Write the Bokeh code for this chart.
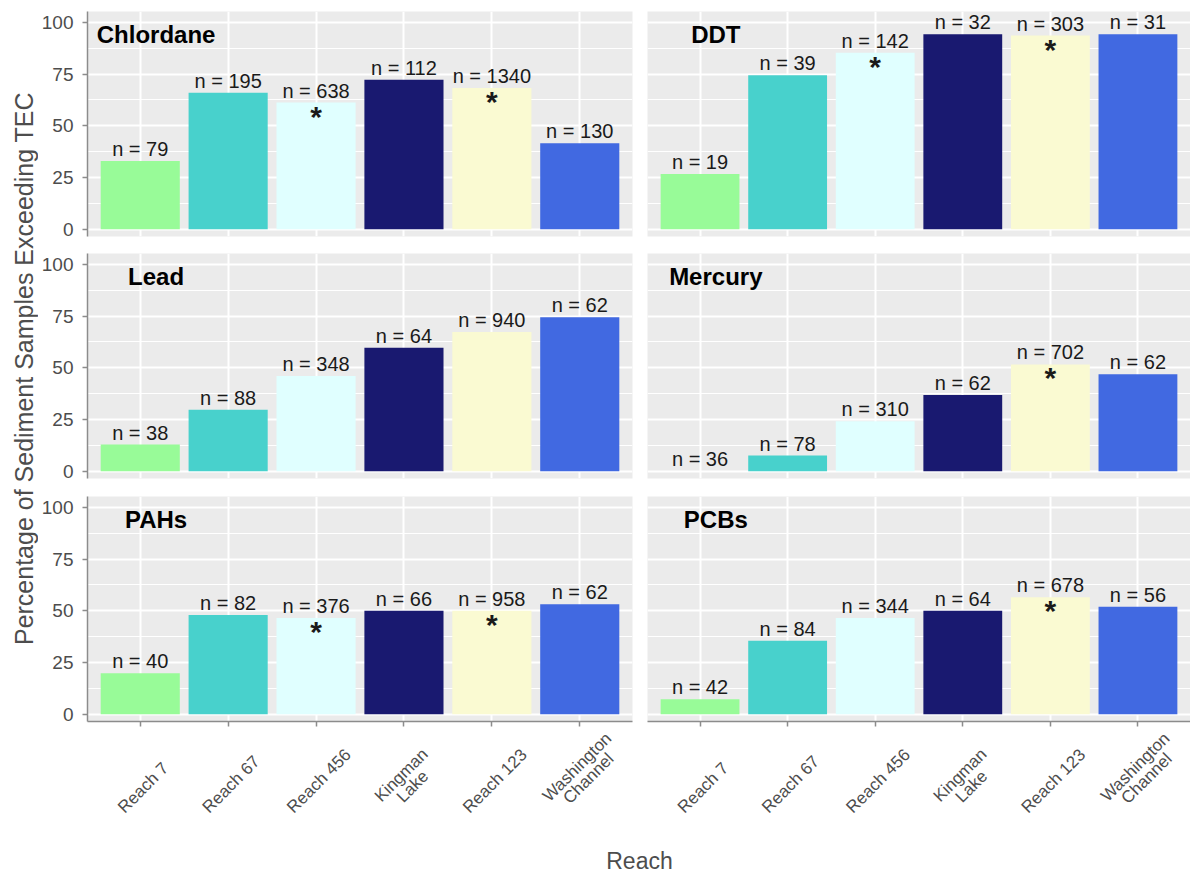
import math
from bokeh.plotting import figure
from bokeh.models import (ColumnDataSource, FactorRange, Range1d, FixedTicker,
                          LabelSet, Label)
from bokeh.layouts import column, row
from bokeh.core.properties import value
from bokeh.embed import file_html
from bokeh.resources import INLINE

# ---------------- data ----------------
reaches = ["Reach 7", "Reach 67", "Reach 456", "Kingman Lake", "Reach 123", "Washington Channel"]
reach_label_line1 = ["Reach 7", "Reach 67", "Reach 456", "Kingman", "Reach 123", "Washington"]
reach_label_line2 = ["", "", "", "Lake", "", "Channel"]
reach_colors = ["#98FB98", "#48D1CC", "#E0FFFF", "#191970", "#FAFAD2", "#4169E1"]

chlordane_pct = [33.0, 65.9, 61.2, 72.2, 68.3, 41.5]
chlordane_n = [79, 195, 638, 112, 1340, 130]
chlordane_sig = [0, 0, 1, 0, 1, 0]

ddt_pct = [26.7, 74.4, 85.3, 94.2, 93.6, 94.2]
ddt_n = [19, 39, 142, 32, 303, 31]
ddt_sig = [0, 0, 1, 0, 1, 0]

lead_pct = [12.9, 29.7, 46.0, 59.7, 67.3, 74.4]
lead_n = [38, 88, 348, 64, 940, 62]
lead_sig = [0, 0, 0, 0, 0, 0]

mercury_pct = [0.0, 7.6, 24.2, 36.8, 51.6, 46.9]
mercury_n = [36, 78, 310, 62, 702, 62]
mercury_sig = [0, 0, 0, 0, 1, 0]

pahs_pct = [19.8, 47.9, 46.5, 50.0, 50.0, 53.2]
pahs_n = [40, 82, 376, 66, 958, 62]
pahs_sig = [0, 0, 1, 0, 1, 0]

pcbs_pct = [7.3, 35.5, 46.5, 50.0, 56.5, 51.9]
pcbs_n = [42, 84, 344, 64, 678, 56]
pcbs_sig = [0, 0, 0, 0, 1, 0]

y_ticks = [0, 25, 50, 75, 100]
y_minor_ticks = [12.5, 37.5, 62.5, 87.5]

y_title = "Percentage of Sediment Samples Exceeding TEC"
x_title = "Reach"

# ---------------- style ----------------
FONT = "Liberation Sans"
PANEL_BG = "#EBEBEB"
AXIS_GREY = "#8C8C8C"
TEXT_GREY = "#4D4D4D"
Y_LO, Y_HI = -3.5, 105.2
TITLE_W = 38
LEFT_B = 49
STRIP_H = 96
ROW_H = [244, 243, 240 + STRIP_H]
XT_H = 50
TICK_FS = 17
LINE_SP = 16

# approximate Arial/Liberation Sans advance widths (em) for tick-label layout
_EM = {"R": .722, "e": .556, "a": .556, "c": .5, "h": .556, " ": .278, "K": .667,
       "i": .222, "n": .556, "g": .556, "m": .833, "L": .556, "k": .5, "W": .944,
       "s": .5, "t": .278, "o": .556, "C": .722, "l": .222}


def text_w(s):
    return sum(_EM.get(ch, .556) for ch in s) * TICK_FS


def x_range():
    return FactorRange(factors=reaches, range_padding=0.1, range_padding_units="absolute")


def make_panel(name, pct, n, sig, left, bottom, top_border, bottom_border, xr):
    fw = 545 if left else 543
    p = figure(x_range=xr, y_range=Range1d(Y_LO, Y_HI),
               frame_width=fw, frame_height=225,
               min_border_left=LEFT_B if left else 8,
               min_border_right=7 if left else 0,
               min_border_top=top_border, min_border_bottom=bottom_border,
               output_backend="svg", toolbar_location=None, tools="")
    p.background_fill_color = PANEL_BG
    p.border_fill_color = "white"
    p.outline_line_color = None

    tick = FixedTicker(ticks=y_ticks, minor_ticks=y_minor_ticks)
    p.yaxis.ticker = tick
    p.ygrid.ticker = tick
    p.ygrid.grid_line_color = "white"
    p.ygrid.grid_line_width = 2
    p.ygrid.minor_grid_line_color = "white"
    p.ygrid.minor_grid_line_width = 1
    p.xgrid.grid_line_color = "white"
    p.xgrid.grid_line_width = 2

    if left:
        ax = p.yaxis[0]
        ax.axis_line_color = AXIS_GREY
        ax.axis_line_width = 1.5
        ax.major_tick_line_color = AXIS_GREY
        ax.major_tick_line_width = 1.5
        ax.major_tick_out = 5
        ax.major_tick_in = 0
        ax.minor_tick_line_color = None
        ax.major_label_text_font = FONT
        ax.major_label_text_font_size = "19px"
        ax.major_label_text_color = TEXT_GREY
        ax.major_label_standoff = 9
    else:
        p.yaxis.visible = False

    if bottom:
        ax = p.xaxis[0]
        ax.axis_line_color = AXIS_GREY
        ax.axis_line_width = 1.5
        ax.major_tick_line_color = AXIS_GREY
        ax.major_tick_line_width = 1.5
        ax.major_tick_out = 5
        ax.major_tick_in = 0
        ax.minor_tick_line_color = None
        ax.major_label_text_color = None
        ax.major_label_standoff = 0
    else:
        p.xaxis.visible = False

    src = ColumnDataSource(dict(reach=reaches, pct=pct,
                                label=["n = %d" % v for v in n], color=reach_colors))
    p.vbar(x="reach", top="pct", width=0.9, source=src, fill_color="color", line_color=None)

    p.add_layout(LabelSet(x="reach", y="pct", text="label", source=src,
                          text_font=value(FONT), text_font_size=value("20px"), text_color="#1A1A1A",
                          text_align="center", text_baseline="alphabetic", y_offset=5))

    sig_src = ColumnDataSource(dict(reach=[r for r, s in zip(reaches, sig) if s],
                                    pct=[v for v, s in zip(pct, sig) if s],
                                    star=["*" for s in sig if s]))
    p.add_layout(LabelSet(x="reach", y="pct", text="star", source=sig_src,
                          text_font=value(FONT), text_font_size=value("30px"),
                          text_font_style="bold", text_color="#1A1A1A",
                          text_align="center", text_baseline="alphabetic", y_offset=-24))

    p.add_layout(Label(x=0.68, y=94, text=name, text_font=FONT, text_font_size="24px",
                       text_font_style="bold", text_color="black",
                       text_align="center", text_baseline="middle"))
    return p


def make_strip(left, xr):
    fw = 545 if left else 543
    s = figure(x_range=xr, y_range=Range1d(0, STRIP_H),
               frame_width=fw, frame_height=STRIP_H,
               min_border_left=LEFT_B if left else 8,
               min_border_right=7 if left else 0,
               min_border_top=0, min_border_bottom=0,
               output_backend="svg", toolbar_location=None, tools="")
    s.axis.visible = False
    s.grid.visible = False
    s.outline_line_color = None
    c45 = math.cos(math.pi / 4)
    x1, y1, x2, y2 = [], [], [], []
    for l1, l2 in zip(reach_label_line1, reach_label_line2):
        nl = 2 if l2 else 1
        lmax = max(text_w(l1), text_w(l2))
        extent = (lmax + 0.72 * TICK_FS + (nl - 1) * LINE_SP) * c45
        cy = 9 + extent / 2.0
        d = (LINE_SP / 2.0) * c45 if nl == 2 else 0.0
        x1.append(3 - d); y1.append(cy + d)
        x2.append(3 + d); y2.append(cy - d)
    lab = ColumnDataSource(dict(reach=reaches, l1=reach_label_line1, l2=reach_label_line2,
                                x1=x1, y1=y1, x2=x2, y2=y2))
    for txt, xo, yy in (("l1", "x1", "y1"), ("l2", "x2", "y2")):
        s.text(x="reach", y=yy, text=txt, x_offset=xo, source=lab, angle=math.pi / 4,
               text_font=value(FONT), text_font_size=value("%dpx" % TICK_FS), text_color=TEXT_GREY,
               text_align="center", text_baseline="middle")
    return s


xr_l = [x_range() for _ in range(3)]
xr_r = [x_range() for _ in range(3)]
tl = make_panel("Chlordane", chlordane_pct, chlordane_n, chlordane_sig, True, False, 11, 8, xr_l[0])
tr = make_panel("DDT", ddt_pct, ddt_n, ddt_sig, False, False, 11, 8, xr_r[0])
ml = make_panel("Lead", lead_pct, lead_n, lead_sig, True, False, 9, 9, xr_l[1])
mr = make_panel("Mercury", mercury_pct, mercury_n, mercury_sig, False, False, 9, 9, xr_r[1])
bl = make_panel("PAHs", pahs_pct, pahs_n, pahs_sig, True, True, 9, 6, xr_l[2])
br = make_panel("PCBs", pcbs_pct, pcbs_n, pcbs_sig, False, True, 9, 6, xr_r[2])
sl = make_strip(True, xr_l[2])
sr = make_strip(False, xr_r[2])

# y-axis title strip
grid_h = sum(ROW_H)
yt = figure(frame_width=TITLE_W, frame_height=grid_h, min_border=0,
            x_range=Range1d(0, TITLE_W), y_range=Range1d(0, grid_h),
            output_backend="svg", toolbar_location=None, tools="")
yt.axis.visible = False
yt.grid.visible = False
yt.outline_line_color = None
yt.add_layout(Label(x=23, y=grid_h - 368, text=y_title, angle=math.pi / 2,
                    text_font=FONT, text_font_size="25px", text_color=TEXT_GREY,
                    text_align="center", text_baseline="middle"))

# x-axis title strip
xt_w = (LEFT_B + 545 + 7) + (8 + 543)
xt = figure(frame_width=xt_w, frame_height=XT_H, min_border=0,
            x_range=Range1d(0, xt_w), y_range=Range1d(0, XT_H),
            output_backend="svg", toolbar_location=None, tools="")
xt.axis.visible = False
xt.grid.visible = False
xt.outline_line_color = None
xt.add_layout(Label(x=LEFT_B + 545 + 7, y=XT_H - 37, text=x_title,
                    text_font=FONT, text_font_size="23px", text_color=TEXT_GREY,
                    text_align="center", text_baseline="middle"))

layout = row(yt, column(row(tl, tr), row(ml, mr), row(bl, br), row(sl, sr), xt))

open("out.html", "w").write(file_html(layout, INLINE))
